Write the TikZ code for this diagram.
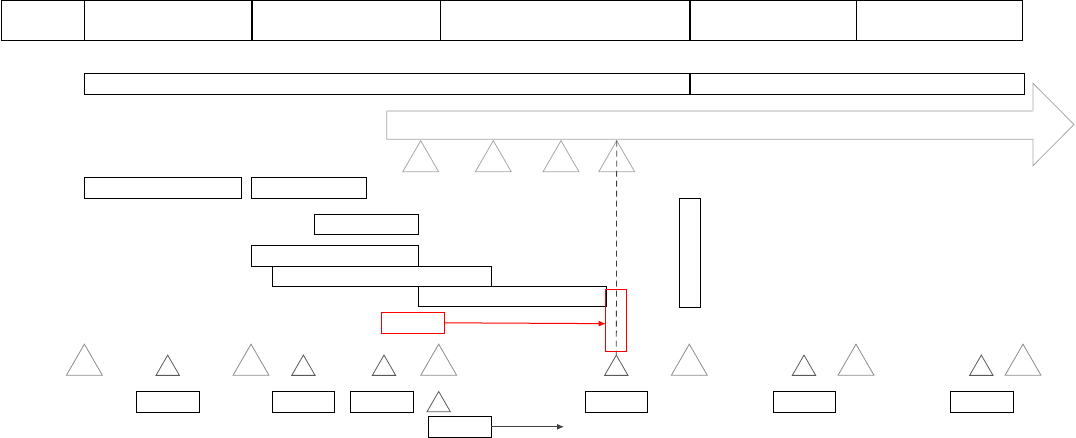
\documentclass[tikz,border=0pt]{standalone}
\usetikzlibrary{shapes.geometric,arrows.meta}
\definecolor{lgray}{HTML}{A6A6A6}
\definecolor{llgray}{HTML}{D9D9D9}
\definecolor{mgray}{HTML}{8C8C8C}
\definecolor{dgray}{HTML}{595959}
\definecolor{agray}{HTML}{404040}
\newcommand{\rbx}[6][]{%
  \pgfmathsetmacro\rbw{#5-#3}\pgfmathsetmacro\rbh{#6-#4}%
  \node[bx,#1,minimum width=\rbw pt,minimum height=\rbh pt,anchor=north west] (#2) at (#3,#4) {};}
\tikzset{
  bx/.style={draw=black,line width=1pt,inner sep=0pt,outer sep=0pt,fill=none},
  thickbx/.style={line width=1.6pt},
  redbx/.style={draw=red},
  tri/.style={regular polygon,regular polygon sides=3,draw,inner sep=0pt,outer sep=0pt,line width=0.8pt},
  bigtri/.style={tri,minimum size=41.5pt,draw=mgray},
  smalltri/.style={tri,minimum size=27pt,draw=dgray},
  uptri/.style={tri,minimum size=41.5pt,draw=lgray},
  dashline/.style={draw=agray,line width=0.8pt,dash pattern=on 6pt off 4pt},
  redarrow/.style={draw=red,line width=1pt,-{Latex[length=7pt,width=6pt]}},
  grayarrow/.style={draw=agray,line width=1pt,-{Latex[length=7pt,width=6pt]}},
}
\begin{document}
\begin{tikzpicture}[x=1pt,y=-1pt]
\useasboundingbox (0,0) rectangle (1076,438);
% top row
\rbx{t1}{1}{1}{84.5}{40.5}
\rbx{t2}{84.5}{1}{252}{40.5}
\rbx{t3}{252}{1}{440}{40.5}
\rbx{t4}{440}{1}{690}{40.5}
\rbx{t5}{690}{1}{856}{40.5}
\rbx{t6}{856}{1}{1022}{40.5}
\draw[line width=1.6pt] (t2.north west) -- (t2.south west);
\draw[line width=1.6pt] (t3.north west) -- (t3.south west);
\draw[line width=1.3pt] (t5.north west) -- (t5.south west);
% second bar
\rbx{b1}{84.5}{73.5}{690}{94.5}
\rbx{b2}{690}{73.5}{1024.4}{94.5}
\draw[line width=1.4pt] (b2.north west) -- (b2.south west);
% big arrow
\draw[lgray,line width=0.8pt] (386.7,111) -- (386.7,139.3) -- (1033,139.3) -- (1033,165.7) -- (1074,124.5) -- (1033,83.3) -- (1033,111);
\draw[llgray,line width=1.2pt] (386.7,111) -- (1033,111);
% upper triangles
\node[uptri] (u1) at (420.7,161.4) {};
\node[uptri] (u2) at (493.3,161.4) {};
\node[uptri] (u3) at (561,161.4) {};
\node[uptri] (u4) at (616.7,161.4) {};
% rows of boxes
\rbx{r1}{84.4}{177.5}{241.4}{198.3}
\rbx{r2}{251.4}{177.5}{366.4}{198.3}
\rbx{r3}{314}{214.3}{418.4}{234.3}
\rbx{r4}{251.4}{245.3}{418.4}{266.3}
\rbx{r5}{272.4}{266.3}{491.4}{286.3}
\rbx{r6}{418.4}{286.3}{606}{307}
\rbx{vb}{679.3}{198.3}{700.3}{307.3}
\rbx[redbx]{rb}{381.7}{312.3}{444}{333.3}
\rbx[redbx]{rt}{605.7}{289.3}{626.3}{351}
% bottom triangles
\node[bigtri] (d1) at (84.4,364.9) {};
\node[smalltri] (d2) at (167.7,368.6) {};
\node[bigtri] (d3) at (251,364.9) {};
\node[smalltri] (d4) at (303.4,368.6) {};
\node[smalltri] (d5) at (384,368.6) {};
\node[bigtri] (d6) at (438.7,364.9) {};
\node[smalltri] (d7) at (616.3,368.6) {};
\node[bigtri] (d8) at (689.3,364.9) {};
\node[smalltri] (d9) at (804,368.6) {};
\node[bigtri] (d10) at (856,364.9) {};
\node[smalltri] (d11) at (981.3,368.6) {};
\node[bigtri] (d12) at (1023,364.9) {};
\node[smalltri] (d13) at (438.7,405) {};
% bottom boxes
\rbx{e1}{136.4}{391.3}{199.4}{412.3}
\rbx{e2}{272.4}{391.3}{334.4}{412.3}
\rbx{e3}{350.2}{391.3}{413.2}{412.3}
\rbx{e4}{585.3}{391.3}{647.3}{412.3}
\rbx{e5}{773.3}{391.3}{835.3}{412.3}
\rbx{e6}{950.3}{391.3}{1013.3}{412.3}
\rbx{e7}{428.3}{416.3}{491.3}{437.3}
% connectors
\draw[dashline] (u4.corner 1) -- (d7.corner 1);
\draw[redarrow] (rb.east) -- ([yshift=-3.5pt]rt.west);
\coordinate (gend) at (564,426.8);
\draw[grayarrow] (e7.east) -- (gend);
\end{tikzpicture}
\end{document}
